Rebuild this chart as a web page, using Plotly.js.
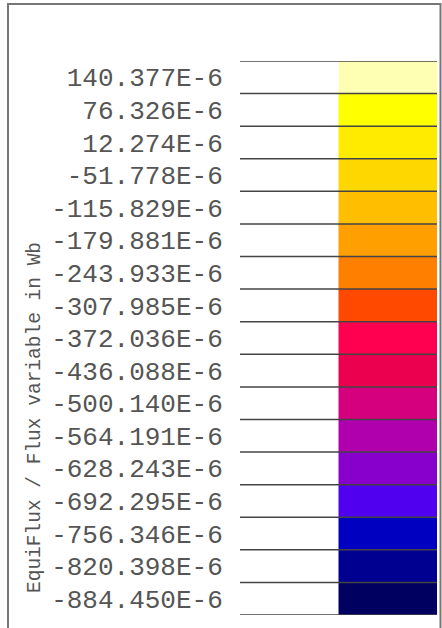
<!DOCTYPE html>
<html>
<head>
<meta charset="utf-8">
<script src="https://cdn.plot.ly/plotly-3.0.1.min.js"></script>
<style>html,body{margin:0;padding:0;background:#fff;}#chart{width:442px;height:628px;}</style>
</head>
<body>
<div id="chart"></div>
<script>
// Legend bands, top to bottom as in the reference
const levelLabels = ["140.377E-6","76.326E-6","12.274E-6","-51.778E-6","-115.829E-6","-179.881E-6","-243.933E-6","-307.985E-6","-372.036E-6","-436.088E-6","-500.140E-6","-564.191E-6","-628.243E-6","-692.295E-6","-756.346E-6","-820.398E-6","-884.450E-6"];
const levelColors = ["#FFFFB4","#FFFF00","#FFEB00","#FFD700","#FFBF00","#FFA000","#FF7F00","#FF4800","#FF0050","#EB0050","#D4007E","#B000AE","#8800CC","#5000EE","#0000C0","#000090","#000060"];
const axisTitle = "EquiFlux / Flux variable in Wb";

const n = levelLabels.length;
// band index counted from bottom
const bases = levelLabels.map((_, i) => n - 1 - i);
const centers = bases.map(b => b + 0.5);
const boundaries = [];
for (let k = 0; k <= n; k++) boundaries.push(k);

const lineX = [], lineY = [];
boundaries.forEach(b => { lineX.push(0, 2, null); lineY.push(b, b, null); });

const traces = [
  {
    type: "bar",
    x: levelLabels.map(() => 1.5),
    y: levelLabels.map(() => 1),
    base: bases,
    width: 1,
    marker: {color: levelColors, line: {width: 0}},
    hoverinfo: "skip",
    showlegend: false
  },
  {
    type: "scatter",
    mode: "lines",
    x: lineX,
    y: lineY,
    line: {color: "#444", width: 1.5},
    hoverinfo: "skip",
    showlegend: false
  }
];

const L = 240, R = 5, T = 61, B = 13;
const W = 442, H = 628;
const pw = W - L - R, ph = H - T - B;
const px = v => (v - L) / pw;
const py = v => (H - B - v) / ph;

const layout = {
  width: W, height: H,
  margin: {l: L, r: R, t: T, b: B, pad: 0},
  paper_bgcolor: "#ffffff",
  plot_bgcolor: "#ffffff",
  barmode: "overlay",
  showlegend: false,
  xaxis: {range: [0, 2], visible: false, fixedrange: true},
  yaxis: {
    range: [0, n],
    tickvals: centers,
    ticktext: levelLabels,
    showgrid: false, zeroline: false, showline: false,
    ticks: "outside", ticklen: 11, tickcolor: "rgba(0,0,0,0)",
    tickfont: {family: "Liberation Mono, Courier New, monospace", size: 26, color: "#555"},
    automargin: false,
    fixedrange: true
  },
  annotations: [{
    text: axisTitle,
    xref: "paper", yref: "paper",
    x: px(35), y: py(418),
    xanchor: "center", yanchor: "middle",
    textangle: -90,
    showarrow: false,
    font: {family: "Liberation Mono, Courier New, monospace", size: 19.5, color: "#555"}
  }],
  shapes: [{
    type: "path", xref: "paper", yref: "paper",
    path: `M ${px(8)} ${py(640)} L ${px(8)} ${py(4)} L ${px(440.5)} ${py(4)} L ${px(440.5)} ${py(640)}`,
    line: {color: "#777", width: 2}
  }]
};

Plotly.newPlot("chart", traces, layout, {staticPlot: true, displayModeBar: false});
</script>
</body>
</html>
